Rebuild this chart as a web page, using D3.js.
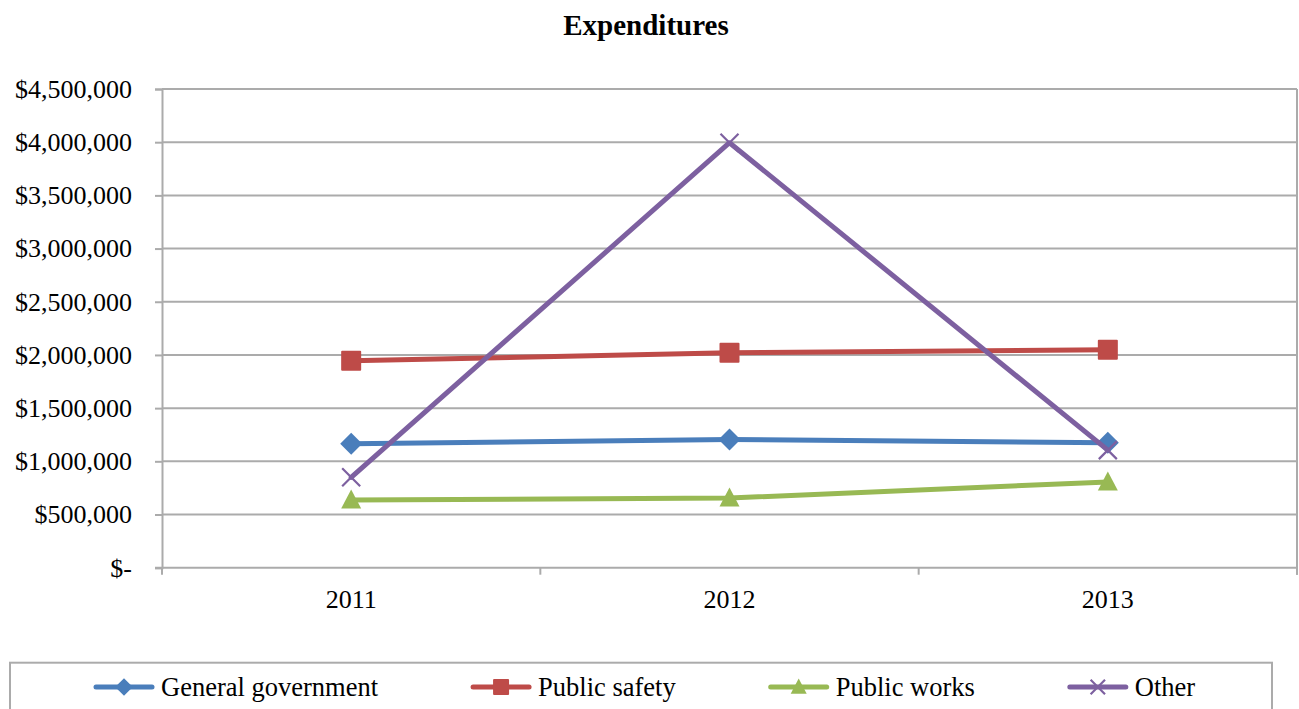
<!DOCTYPE html>
<html>
<head>
<meta charset="utf-8">
<script src="https://cdn.jsdelivr.net/npm/d3@7"></script>
<style>
  html, body { margin: 0; padding: 0; background: #fff; }
  svg { display: block; }
  text { font-family: "Liberation Serif", "Times New Roman", serif; fill: #000; }
</style>
</head>
<body>
<svg id="chart" width="1299" height="709"></svg>
<script>
// Fiscal years on the category axis
const years = ["2011", "2012", "2013"];

// Expenditure series (dollars)
const generalGovernment = [1165000, 1205000, 1175000];
const publicSafety = [1945000, 2020000, 2050000];
const publicWorks = [636000, 655000, 806000];
const other = [850000, 3995000, 1105000];

const seriesNames = ["General government", "Public safety", "Public works", "Other"];
const seriesColors = ["#4a7ebb", "#be4b48", "#98b954", "#7d60a0"];
const seriesMarkers = ["diamond", "square", "triangle", "cross"];

// Value-axis ticks
const yTicks = [0, 500000, 1000000, 1500000, 2000000, 2500000, 3000000, 3500000, 4000000, 4500000];

const series = [generalGovernment, publicSafety, publicWorks, other].map((values, i) => ({
  name: seriesNames[i], color: seriesColors[i], marker: seriesMarkers[i], values
}));

const serif = "'Liberation Serif', 'Times New Roman', serif";
const svg = d3.select("#chart");
const plot = { left: 162, right: 1297, top: 89, bottom: 567.7 };
const gridColor = "#ababab";

const x = d3.scaleBand().domain(years).range([plot.left, plot.right]);
const y = d3.scaleLinear().domain([0, 4500000]).range([plot.bottom, plot.top]);
const cx = d => x(d) + x.bandwidth() / 2;

const fmt = v => v === 0 ? "$-" : d3.format("$,")(v);

// Title
svg.append("text")
  .attr("x", 646).attr("y", 34.5)
  .attr("text-anchor", "middle")
  .style("font-family", serif)
  .style("font-size", "29px").style("font-weight", "bold")
  .text("Expenditures");

// Horizontal gridlines
svg.append("g").selectAll("line").data(yTicks.filter(t => t > 0)).join("line")
  .attr("x1", plot.left).attr("x2", plot.right)
  .attr("y1", d => y(d)).attr("y2", d => y(d))
  .attr("stroke", gridColor).attr("stroke-width", 2);

// Right border of the plot area
svg.append("line")
  .attr("x1", plot.right).attr("x2", plot.right)
  .attr("y1", plot.top).attr("y2", plot.bottom + 7)
  .attr("stroke", gridColor).attr("stroke-width", 2);

// Value axis
const yAxis = svg.append("g")
  .attr("transform", `translate(${plot.left},0)`)
  .call(d3.axisLeft(y).tickValues(yTicks).tickFormat(fmt).tickSize(7).tickPadding(23));
yAxis.select(".domain").attr("stroke", gridColor).attr("stroke-width", 2);
yAxis.selectAll(".tick line").attr("stroke", gridColor).attr("stroke-width", 2);
yAxis.selectAll(".tick text")
  .style("font-family", serif)
  .style("font-size", "26px").attr("fill", "#000");

// Category axis with ticks between categories
const xAxisG = svg.append("g").attr("transform", `translate(0,${plot.bottom})`);
xAxisG.append("line")
  .attr("x1", plot.left - 7).attr("x2", plot.right)
  .attr("stroke", gridColor).attr("stroke-width", 2);
const boundaries = years.map(d => x(d)).concat([plot.right]);
xAxisG.selectAll("line.tk").data(boundaries).join("line").attr("class", "tk")
  .attr("x1", d => d).attr("x2", d => d)
  .attr("y1", 0).attr("y2", 7)
  .attr("stroke", gridColor).attr("stroke-width", 2);
xAxisG.selectAll("text").data(years).join("text")
  .attr("x", d => cx(d)).attr("y", 40)
  .attr("text-anchor", "middle")
  .style("font-family", serif)
  .style("font-size", "26px")
  .text(d => d);

// Marker shapes
function drawMarker(g, type, color, s) {
  if (type === "diamond") {
    g.append("path").attr("d", `M0,${-s}L${s},0L0,${s}L${-s},0Z`).attr("fill", color);
  } else if (type === "square") {
    g.append("rect").attr("x", -s).attr("y", -s).attr("width", 2 * s).attr("height", 2 * s)
      .attr("rx", 1).attr("fill", color);
  } else if (type === "triangle") {
    g.append("path").attr("d", `M0,${-s * 1.05}L${s},${s * 0.85}L${-s},${s * 0.85}Z`).attr("fill", color);
  } else if (type === "cross") {
    g.append("path").attr("d", `M${-s},${-s}L${s},${s}M${s},${-s}L${-s},${s}`)
      .attr("stroke", color).attr("stroke-width", 2.2).attr("fill", "none");
  }
}

const markerSize = { diamond: 11, square: 10, triangle: 10, cross: 9 };

// Series lines and markers
const line = d3.line().x((d, i) => cx(years[i])).y(d => y(d));
series.forEach(s => {
  const g = svg.append("g");
  g.append("path")
    .attr("d", line(s.values))
    .attr("fill", "none").attr("stroke", s.color)
    .attr("stroke-width", 5).attr("stroke-linejoin", "round").attr("stroke-linecap", "round");
  s.values.forEach((v, i) => {
    const mg = g.append("g").attr("transform", `translate(${cx(years[i])},${y(v)})`);
    drawMarker(mg, s.marker, s.color, markerSize[s.marker]);
  });
});

// Legend box
svg.append("rect")
  .attr("x", 10).attr("y", 662.7).attr("width", 1262).attr("height", 80)
  .attr("fill", "none").attr("stroke", gridColor).attr("stroke-width", 2);

const legend = svg.append("g");
const legendY = 687;
const lineLen = 56, textOffset = 65, itemGap = 95, legendStart = 96;
const items = legend.selectAll("g.item").data(series).join("g").attr("class", "item");
items.append("text")
  .attr("x", textOffset).attr("y", legendY)
  .attr("dominant-baseline", "central")
  .style("font-family", serif)
  .style("font-size", "26.5px")
  .text(d => d.name);
const widths = [];
items.each(function () { widths.push(this.querySelector("text").getComputedTextLength()); });
let cursor = legendStart;
items.each(function (d, i) {
  const g = d3.select(this).attr("transform", `translate(${cursor},0)`);
  g.append("line")
    .attr("x1", 0).attr("x2", lineLen).attr("y1", legendY).attr("y2", legendY)
    .attr("stroke", d.color).attr("stroke-width", 5).attr("stroke-linecap", "round");
  const mg = g.append("g").attr("transform", `translate(${lineLen / 2},${legendY})`);
  drawMarker(mg, d.marker, d.color, markerSize[d.marker] * 0.8);
  cursor += textOffset + widths[i] + itemGap;
});
</script>
</body>
</html>
